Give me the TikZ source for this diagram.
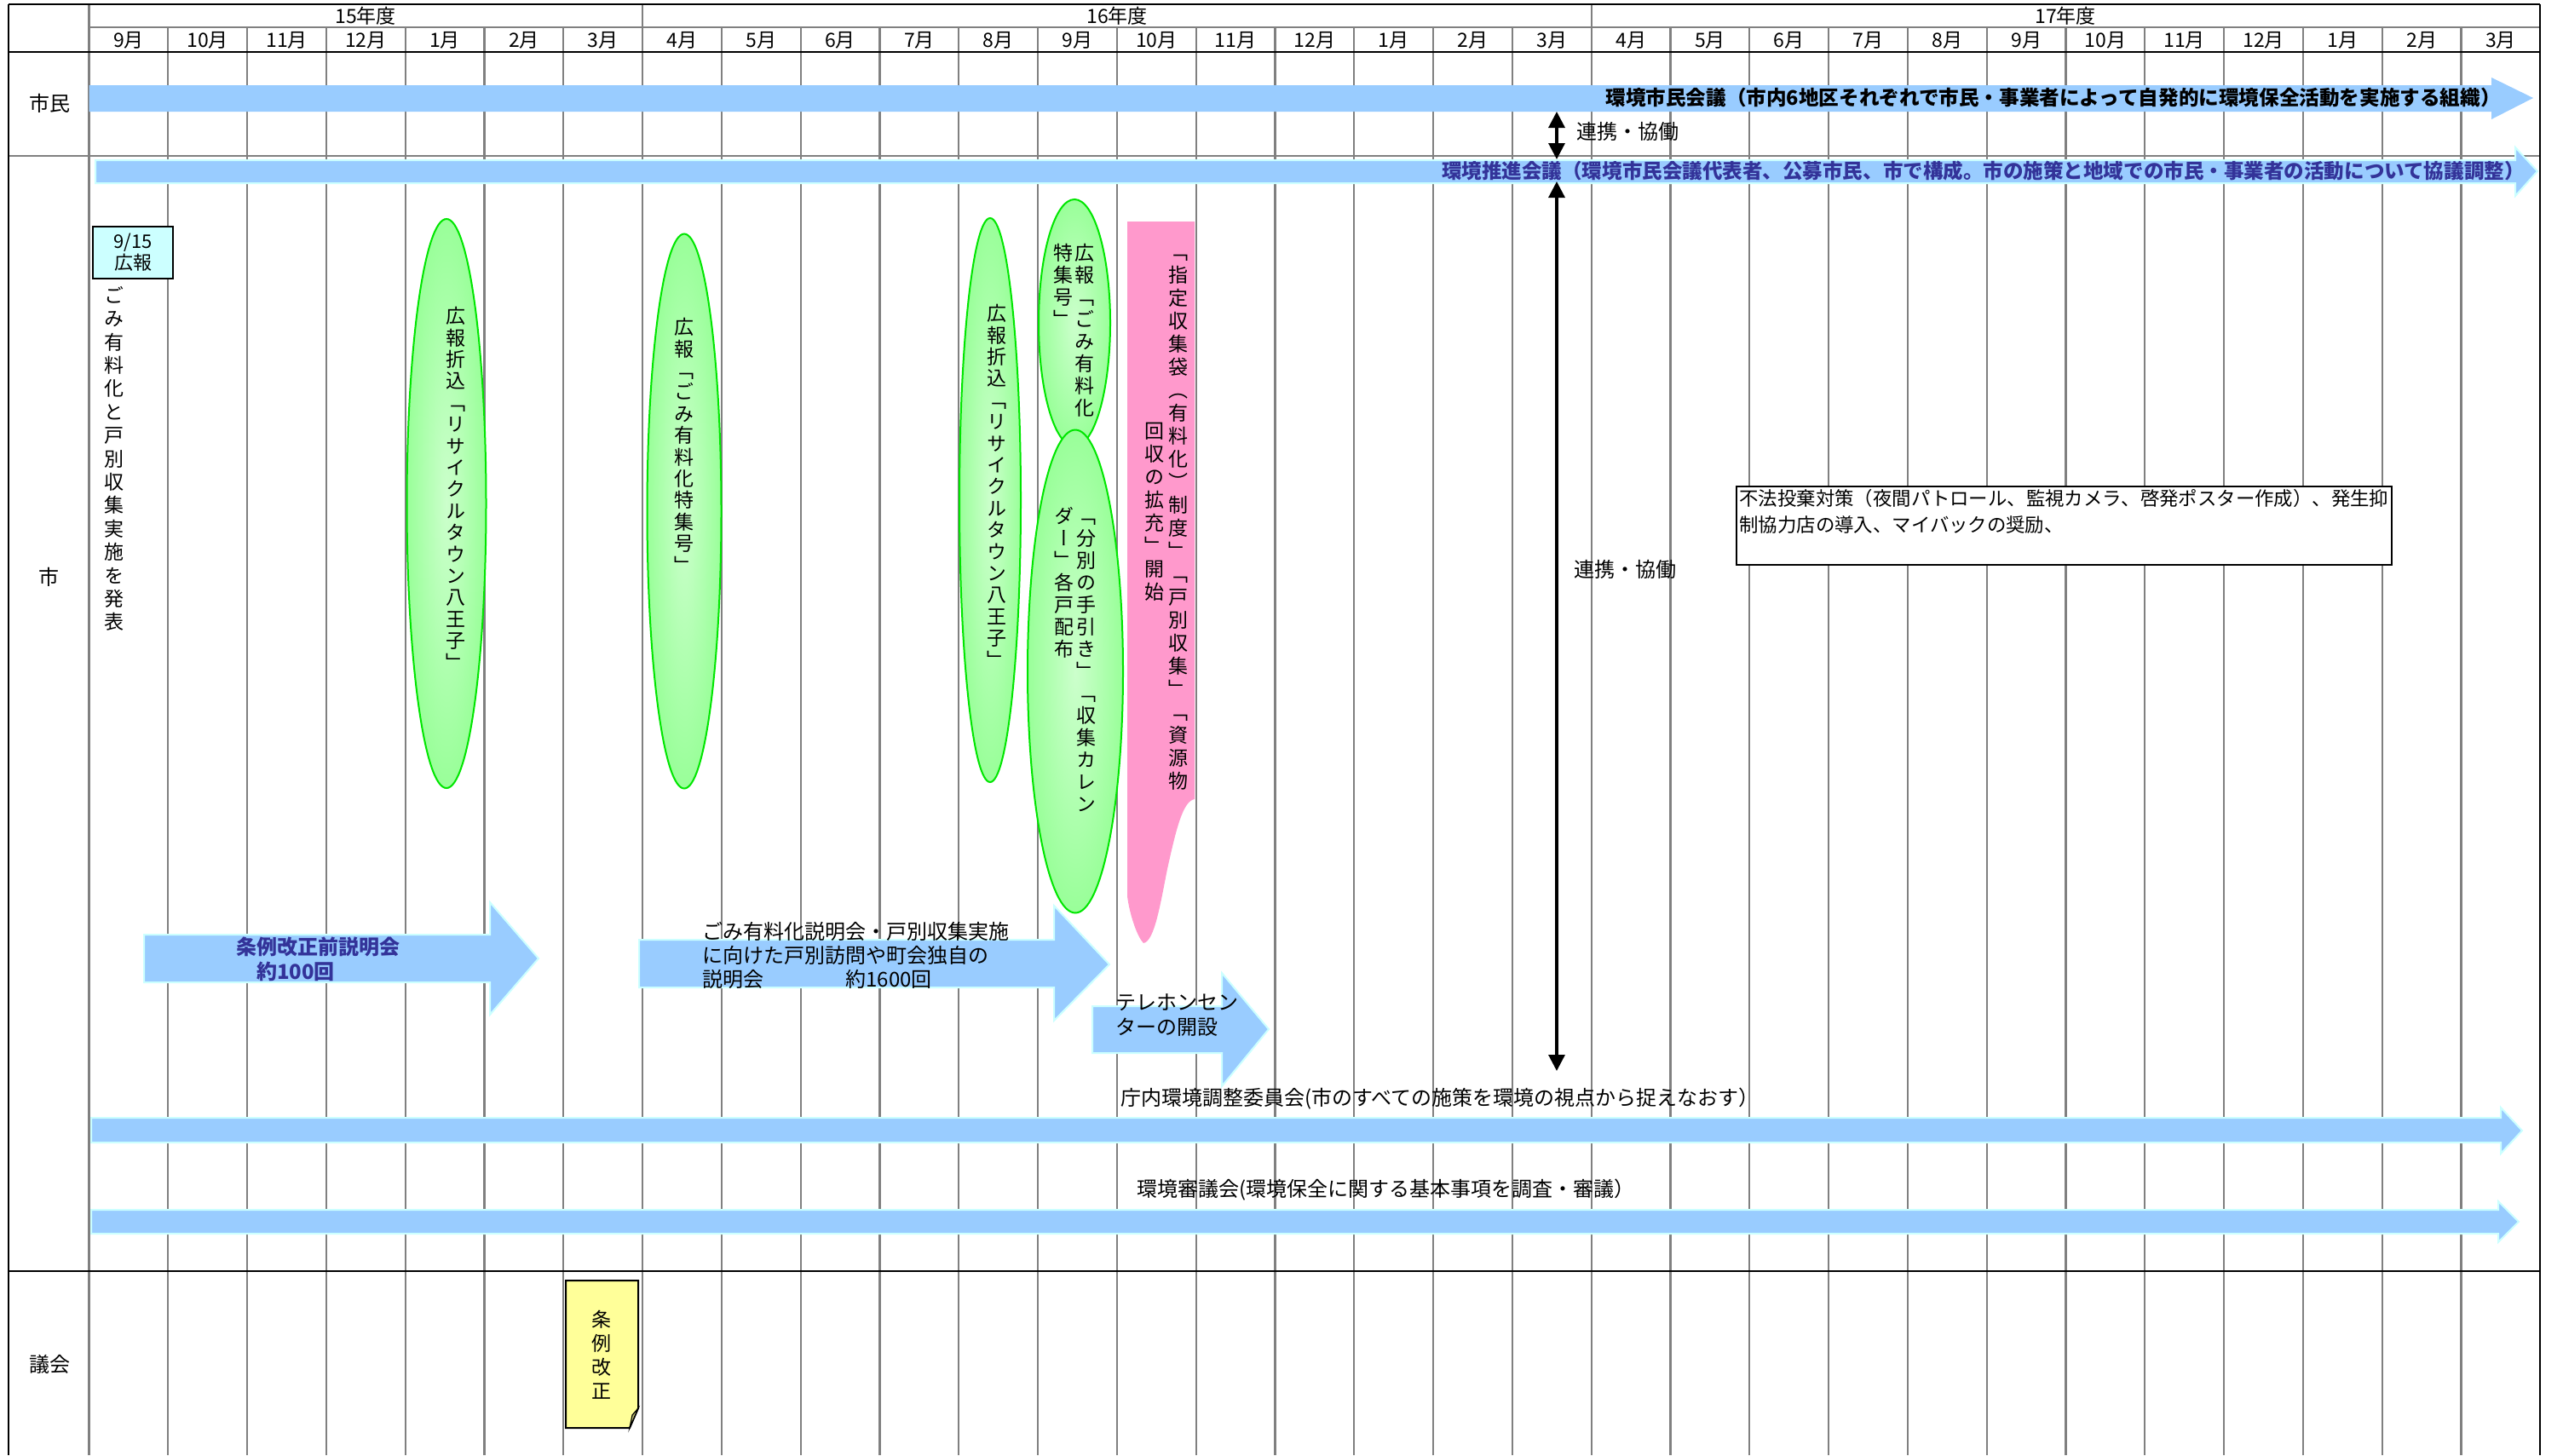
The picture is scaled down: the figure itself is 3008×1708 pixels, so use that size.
\documentclass[tikz,border=0pt]{standalone}
\usepackage{fontspec}
\setmainfont{Noto Sans CJK JP}
\newfontfamily\vjp[RawFeature=+vert]{Noto Sans CJK JP}
\usetikzlibrary{shapes.geometric,arrows.meta}
\definecolor{barblue}{RGB}{153,204,255}
\definecolor{cyanline}{RGB}{204,255,255}
\definecolor{txtblue}{RGB}{51,51,153}
\definecolor{gin}{RGB}{204,255,204}
\definecolor{gout}{RGB}{153,255,153}
\definecolor{gline}{RGB}{0,230,0}
\definecolor{pinkc}{RGB}{255,153,204}
\definecolor{notey}{RGB}{255,255,153}
\definecolor{gridg}{RGB}{128,128,128}
\newlength\vtpitch
\newcommand\vtext[2][13pt]{\setlength\vtpitch{#1}\vbox{\offinterlineskip\vtloop#2\relax}}
\def\vtloop#1{\ifx\relax#1\else\hbox to 1.2em{\hss\vrule width0pt height0.8\vtpitch depth0.2\vtpitch\relax#1\hss}\expandafter\vtloop\fi}
\tikzset{
  gridln/.style={draw=gridg, line width=1.1pt},
  borderln/.style={draw=black, line width=1.4pt},
  lbl/.style={font=\fontsize{11.5}{13}\selectfont, inner sep=0pt},
  txt/.style={font=\fontsize{12}{14}\selectfont, inner sep=0pt},
  btxt/.style={font=\bfseries\fontsize{12}{14}\selectfont, inner sep=0pt},
  barplain/.style={fill=barblue},
  barline/.style={fill=barblue, draw=cyanline, line width=1pt},
  vt/.style={font={\vjp\fontsize{11.5}{13}\selectfont}, inner sep=0pt, anchor=north},
  gell/.style={ellipse, draw=gline, line width=1pt, inner color=gin, outer color=gout, inner sep=0pt},
  link/.style={line width=1.6pt, {Triangle[length=9.5pt,width=9.5pt]}-{Triangle[length=9.5pt,width=9.5pt]}},
}
\begin{document}
\begin{tikzpicture}[x=0.5pt,y=-0.5pt]
\useasboundingbox (0,0) rectangle (3008,1708);
\fill[white] (0,0) rectangle (3008,1708);
% grid
\foreach \i in {1,...,30} { \draw[gridln] ({104.5+92.8*\i},32) -- ({104.5+92.8*\i},1708); }
\draw[gridln] (754.1,5) -- (754.1,32);
\draw[gridln] (1867.7,5) -- (1867.7,32);
\draw[gridln] (104.5,5) -- (104.5,1708);
\draw[gridln] (104.5,32) -- (2981,32);
\draw[draw=gridg, line width=1.3pt] (10,183) -- (2981,183);
\draw[borderln] (10,5) -- (2981,5);
\draw[borderln] (10,5) -- (10,1708);
\draw[borderln] (2981,5) -- (2981,1708);
\draw[borderln] (10,61) -- (2981,61);
\draw[borderln] (10,1492) -- (2981,1492);
% headers
\node[lbl] (y15) at (429,19) {15年度};
\node[lbl] (y16) at (1311,19) {16年度};
\node[lbl] (y17) at (2424,19) {17年度};
\foreach \m [count=\i from 0] in {9,10,11,12,1,2,3,4,5,6,7,8,9,10,11,12,1,2,3,4,5,6,7,8,9,10,11,12,1,2,3}
  { \node[lbl] (m\i) at ({104.5+92.8*(\i+0.5)},47) {\m 月}; }
\node[txt] (lane1) at (58,121) {市民};
\node[txt] (lane2) at (58,677) {市};
\node[txt] (lane3) at (58,1601) {議会};
% long bars
\path[barplain] (104.5,100) -- (2924,100) -- (2924,91) -- (2973,115) -- (2924,140) -- (2924,131) -- (104.5,131) -- cycle;
\node[btxt, anchor=east, font=\bfseries\fontsize{11.8}{14}\selectfont] (bar1t) at (2935,115) {環境市民会議（市内6地区それぞれで市民・事業者によって自発的に環境保全活動を実施する組織）};
\path[barline] (112,188) -- (2952,188) -- (2952,173) -- (2978,201) -- (2952,230) -- (2952,215) -- (112,215) -- cycle;
\node[btxt, anchor=east, text=txtblue, font=\bfseries\fontsize{11.77}{14}\selectfont] (bar2t) at (2963,201) {環境推進会議（環境市民会議代表者、公募市民、市で構成。市の施策と地域での市民・事業者の活動について協議調整）};
\path[barline] (107,1312) -- (2935,1312) -- (2935,1300) -- (2960,1327) -- (2935,1354) -- (2935,1341) -- (107,1341) -- cycle;
\node[txt, anchor=west] (bar3t) at (1315,1290) {庁内環境調整委員会(市のすべての施策を環境の視点から捉えなおす）};
\path[barline] (107,1420) -- (2932,1420) -- (2932,1410) -- (2956,1434) -- (2932,1458) -- (2932,1448) -- (107,1448) -- cycle;
\node[txt, anchor=west] (bar4t) at (1334,1397) {環境審議会(環境保全に関する基本事項を調査・審議）};
% links
\coordinate (kA) at (1827,131);
\coordinate (kB) at (1827,187);
\coordinate (kC) at (1827,213);
\coordinate (kD) at (1827,1257);
\draw[link] (kA) -- (kB);
\draw[link] (kC) -- (kD);
\node[txt, anchor=west] (link1t) at (1850,154) {連携・協働};
\node[txt, anchor=west] (link2t) at (1847,668) {連携・協働};
% 9/15 box
\node[draw, line width=1pt, fill=cyanline, minimum width=47pt, minimum height=30.5pt, align=center, font=\fontsize{11}{12.5}\selectfont, inner sep=0pt] (b915) at (156,296) {9/15\\広報};
\node[vt] (t915) at (134,333) {\vtext[13.7pt]{ごみ有料化と戸別収集実施を発表}};
% ellipses
\node[gell, minimum width=46.5pt, minimum height=334pt] (e1) at (524,591) {};
\node[vt] (e1t) at (535,359) {\vtext[12.7pt]{広報折込「リサイクルタウン八王子」}};
\node[gell, minimum width=43.5pt, minimum height=325.5pt] (e2) at (803,600) {};
\node[vt] (e2t) at (803,372) {\vtext[12.7pt]{広報「ごみ有料化特集号」}};
\node[gell, minimum width=36pt, minimum height=331pt] (e3) at (1162,587) {};
\node[vt] (e3t) at (1170,356) {\vtext[12.7pt]{広報折込「リサイクルタウン八王子」}};
\node[gell, minimum width=42pt, minimum height=145pt] (e4) at (1261,379) {};
\node[vt] (e4r) at (1273,284) {\vtext[13pt]{広報「ごみ有料化}};
\node[vt] (e4l) at (1248,284) {\vtext[13pt]{特集号」}};
\node[gell, minimum width=56pt, minimum height=283.5pt] (e5) at (1262,788) {};
\node[vt] (e5r) at (1275,593) {\vtext[13pt]{「分別の手引き」「収集カレン}};
\node[vt] (e5l) at (1249,593) {\vtext[13pt]{ダー」各戸配布}};
% pink
\fill[pinkc] (1323,260) -- (1402,260) -- (1402,938) .. controls (1388,940) and (1380,975) .. (1370,1020) .. controls (1362,1060) and (1355,1105) .. (1342,1107) .. controls (1335,1100) and (1326,1075) .. (1323,1052) -- cycle;
\node[vt, anchor=center] (p1) at (1383,607) {\vtext[13.5pt]{「指定収集袋（有料化）制度」「戸別収集」「資源物}};
\node[vt, anchor=center] (p2) at (1355,601) {\vtext[13.5pt]{回収の拡充」開始}};
% block arrows
\path[barline] (169,1097) -- (575,1097) -- (575,1059) -- (632,1125) -- (575,1191) -- (575,1153) -- (169,1153) -- cycle;
\node[btxt, text=txtblue, align=left, font=\bfseries\fontsize{12}{14.5}\selectfont] (a1t) at (373,1126) {条例改正前説明会\\\hspace*{1em}約100回};
\path[barline] (750,1103) -- (1237,1103) -- (1237,1063) -- (1302,1132) -- (1237,1198) -- (1237,1159) -- (750,1159) -- cycle;
\node[txt, anchor=west, align=left] (a2t) at (824,1121) {ごみ有料化説明会・戸別収集実施\\に向けた戸別訪問や町会独自の\\説明会\hspace{4em}約1600回};
\path[barline] (1282,1181) -- (1434,1181) -- (1434,1142) -- (1489,1208) -- (1434,1275) -- (1434,1236) -- (1282,1236) -- cycle;
\node[txt, anchor=west, align=left, font=\fontsize{12}{14.5}\selectfont] (a3t) at (1309,1192) {テレホンセン\\ターの開設};
% box
\node[draw, line width=1.2pt, fill=white, minimum width=384.5pt, minimum height=46pt, anchor=north west, inner sep=0pt] (fb) at (2037,570) {};
\node[anchor=north west, align=left, inner sep=0pt, font=\fontsize{11.2}{15.5}\selectfont] (fbt) at (2041,574) {不法投棄対策（夜間パトロール、監視カメラ、啓発ポスター作成）、発生抑\\制協力店の導入、マイバックの奨励、};
% note
\filldraw[fill=notey, draw=black, line width=1pt] (664,1503) -- (749,1503) -- (749,1653) -- (739,1676) -- (664,1676) -- cycle;
\filldraw[fill=notey!75!black, draw=black, line width=0.6pt] (749,1653) -- (742,1661) -- (739,1676) -- cycle;
\node[vt] (nt) at (706,1535) {\vtext[14pt]{条例改正}};
\end{tikzpicture}
\end{document}
